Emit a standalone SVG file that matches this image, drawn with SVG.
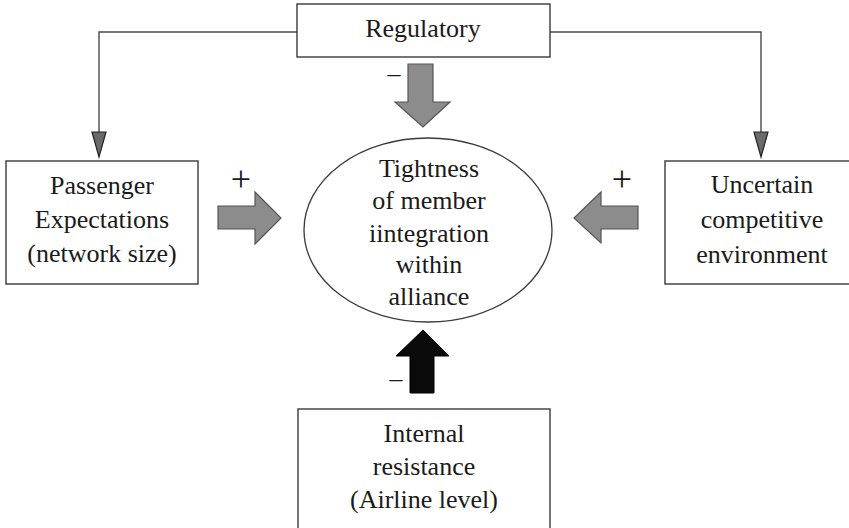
<svg xmlns="http://www.w3.org/2000/svg" width="849" height="528" viewBox="0 0 849 528">
<defs>
<style>
.box{fill:#fff;stroke:#3a3a3a;stroke-width:1.4}
.t{font-family:"Liberation Serif","Times New Roman",serif;font-size:26px;fill:#1a1a1a;text-anchor:middle}
.sign{font-family:"Liberation Serif","Times New Roman",serif;fill:#1a1a1a;text-anchor:middle}
.conn{fill:none;stroke:#4a4a4a;stroke-width:1.4}
.garrow{fill:#8c8c8c;stroke:#555;stroke-width:1.2}
.barrow{fill:#0a0a0a;stroke:#000;stroke-width:1}
</style>
<marker id="ah" viewBox="0 0 14 25" refX="7" refY="25" markerWidth="14" markerHeight="25" markerUnits="userSpaceOnUse" orient="auto-start-reverse">
<path d="M0,0 L14,0 L7,25 Z" fill="#6a6a6a" stroke="#222" stroke-width="1.2"/>
</marker>
</defs>
<g id="connectors">
<path class="conn" d="M297,32 H99 V132"/>
<path class="conn" d="M550,32 H761 V132"/>
<polygon points="92,132 106,132 99,157" fill="#6a6a6a" stroke="#222" stroke-width="1.2"/>
<polygon points="754,132 768,132 761,157" fill="#6a6a6a" stroke="#222" stroke-width="1.2"/>
<polygon class="garrow" points="408,64 433,64 433,102 450,102 423,127 395,102 408,102"/>
<polygon class="garrow" points="218,206 255,206 255,192 281,218 255,244 255,229 218,229"/>
<polygon class="garrow" points="638,206 601,206 601,192 574,218 601,243 601,229 638,229"/>
<polygon class="barrow" points="410,393 434,393 434,356 449,356 423,330 396,356 410,356"/>
<text class="sign" x="394" y="82" font-size="26">–</text>
<text class="sign" x="241" y="191" font-size="36">+</text>
<text class="sign" x="622" y="191" font-size="36">+</text>
<text class="sign" x="396" y="387" font-size="26">–</text>
</g>
<g id="regulatory">
<rect class="box" x="297" y="4" width="253" height="53"/>
<text class="t" x="423" y="37">Regulatory</text>
</g>
<g id="passenger">
<rect class="box" x="6" y="161" width="192" height="123"/>
<text class="t" x="102" y="194">Passenger</text>
<text class="t" x="102" y="228">Expectations</text>
<text class="t" x="102" y="262">(network size)</text>
</g>
<g id="uncertain">
<rect class="box" x="665" y="161" width="200" height="123"/>
<text class="t" x="762" y="193">Uncertain</text>
<text class="t" x="762" y="228">competitive</text>
<text class="t" x="762" y="263">environment</text>
</g>
<g id="tightness">
<ellipse cx="428" cy="230" rx="124" ry="92" fill="#fff" stroke="#3a3a3a" stroke-width="1.3"/>
<text class="t" x="429" y="177">Tightness</text>
<text class="t" x="429" y="209">of member</text>
<text class="t" x="429" y="242">iintegration</text>
<text class="t" x="429" y="273">within</text>
<text class="t" x="429" y="305">alliance</text>
</g>
<g id="internal">
<rect class="box" x="298" y="409" width="252" height="130"/>
<text class="t" x="424" y="442">Internal</text>
<text class="t" x="424" y="475">resistance</text>
<text class="t" x="424" y="508">(Airline level)</text>
</g>
</svg>
